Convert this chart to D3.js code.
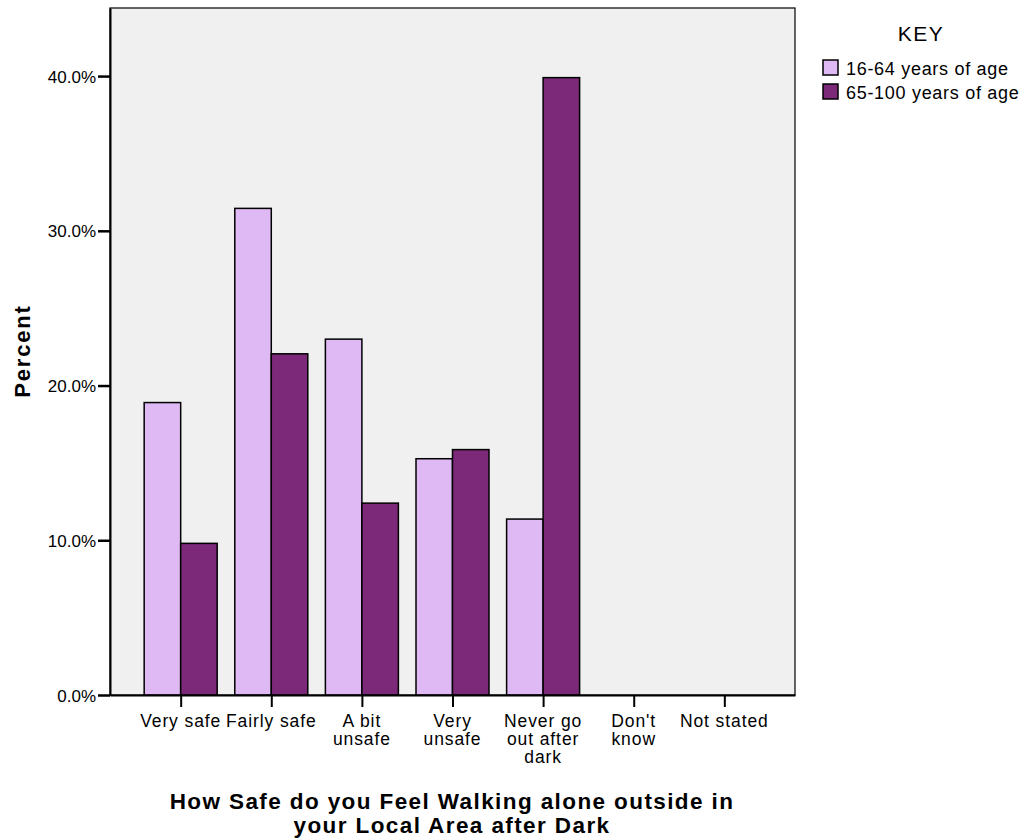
<!DOCTYPE html>
<html><head><meta charset="utf-8">
<script src="https://cdn.jsdelivr.net/npm/d3@7"></script>
<style>body{margin:0;background:#fff}</style>
</head><body>
<svg id="chart" width="1025" height="840"></svg>
<script>
const categories = ["Very safe","Fairly safe","A bit unsafe","Very unsafe","Never go out after dark","Don't know","Not stated"];
const categoryLines = [["Very safe"],["Fairly safe"],["A bit","unsafe"],["Very","unsafe"],["Never go","out after","dark"],["Don't","know"],["Not stated"]];
const seriesNames = ["16-64 years of age","65-100 years of age"];
const young = [18.9, 31.45, 23.0, 15.27, 11.37, 0, 0];
const old = [9.8, 22.05, 12.4, 15.86, 39.9, 0, 0];
const yTicks = [0,10,20,30,40];
const colors = ["#dfb9f3","#7b2978"];

const FONT = "Liberation Sans, Arial, sans-serif";
const svg = d3.select("#chart");
const L=110, R=795, T=8, B=695;
svg.append("rect").attr("x",L).attr("y",T).attr("width",R-L).attr("height",B-T).attr("fill","#f0f0f0").attr("stroke","#000").attr("stroke-width",1.2);

const x = d3.scalePoint().domain(categories).range([L,R]).padding(0.78);
const y = d3.scaleLinear().domain([0,44.4]).range([B,T]);
const bw = 36.5;

const series=[young,old];
series.forEach((vals,si)=>{
  svg.append("g").selectAll("rect").data(categories).join("rect")
    .filter((d,i)=>vals[i]>0)
    .attr("x",d=>x(d)+(si===0?-bw:0))
    .attr("y",(d)=>y(vals[categories.indexOf(d)]))
    .attr("width",bw)
    .attr("height",d=>B-y(vals[categories.indexOf(d)]))
    .attr("fill",colors[si]).attr("stroke","#000").attr("stroke-width",1.5);
});

// y axis
const ya = svg.append("g").attr("transform",`translate(${L},0)`)
  .call(d3.axisLeft(y).tickValues(yTicks).tickSize(12).tickSizeOuter(0).tickPadding(2).tickFormat(d=>d.toFixed(1)+"%"));
ya.select(".domain").attr("stroke","#000").attr("stroke-width",2);
ya.selectAll(".tick line").attr("stroke","#000").attr("stroke-width",2.5);
ya.selectAll(".tick text").attr("font-family",FONT).attr("font-size",17).attr("fill","#000").attr("dy","0.36em");

// x axis
const xa = svg.append("g").attr("transform",`translate(0,${B})`)
  .call(d3.axisBottom(x).tickSize(12).tickSizeOuter(0).tickFormat(""));
xa.select(".domain").attr("stroke","#000").attr("stroke-width",2);
xa.selectAll(".tick line").attr("stroke","#000").attr("stroke-width",2);
categories.forEach((c,i)=>{
  const t = svg.append("text").attr("x",x(c)).attr("y",727).attr("text-anchor","middle")
    .attr("font-family",FONT).attr("font-size",17.5).attr("letter-spacing",0.9).attr("fill","#000");
  categoryLines[i].forEach((ln,j)=>t.append("tspan").attr("x",x(c)).attr("dy",j===0?0:18).text(ln));
});

// axis titles
svg.append("text").attr("transform","translate(30,351) rotate(-90)").attr("text-anchor","middle")
  .attr("font-family",FONT).attr("font-weight","bold").attr("font-size",22).attr("letter-spacing",1.8).text("Percent");
const tt = svg.append("text").attr("text-anchor","middle").attr("y",809)
  .attr("font-family",FONT).attr("font-weight","bold").attr("font-size",22.5).attr("letter-spacing",1.4);
tt.append("tspan").attr("x",452).text("How Safe do you Feel Walking alone outside in");
tt.append("tspan").attr("x",452).attr("dy",24).text("your Local Area after Dark");

// legend
svg.append("text").attr("x",921).attr("y",41).attr("text-anchor","middle")
  .attr("font-family",FONT).attr("font-size",21).attr("letter-spacing",1.5).text("KEY");
seriesNames.forEach((s,i)=>{
  svg.append("rect").attr("x",823).attr("y",60+i*24).attr("width",15).attr("height",15)
    .attr("fill",colors[i]).attr("stroke","#000").attr("stroke-width",1.5);
  svg.append("text").attr("x",846).attr("y",75+i*24)
    .attr("font-family",FONT).attr("font-size",18).attr("letter-spacing",0.7).text(s);
});
</script>
</body></html>
